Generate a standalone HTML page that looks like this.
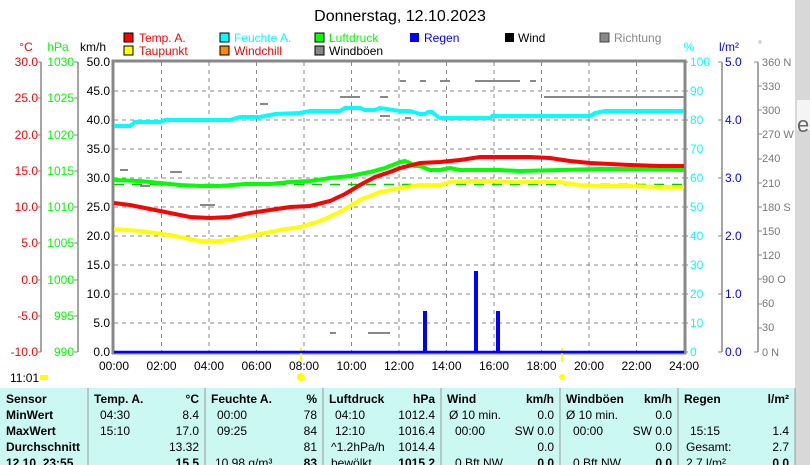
<!DOCTYPE html>
<html><head><meta charset="utf-8"><style>
body{margin:0;width:810px;height:465px;overflow:hidden;background:#fff;font-family:"Liberation Sans",sans-serif;}
svg{position:absolute;left:0;top:0}
</style></head><body>
<svg width="810" height="465" viewBox="0 0 810 465" font-family="Liberation Sans, sans-serif" font-size="12">
<rect x="795" y="0" width="15" height="465" fill="#d8d8d8"/>
<rect x="797" y="100" width="13" height="30" fill="#f4f4f4"/>
<text x="797" y="132" font-size="22" fill="#666">e</text>
<text x="400" y="21" text-anchor="middle" font-size="16" fill="#000">Donnerstag, 12.10.2023</text>
<!-- legend -->
<g font-size="12">
<rect x="124" y="33" width="9" height="9" fill="#f00" stroke="#000"/><text x="139" y="42" fill="#f00">Temp. A.</text>
<rect x="124" y="46" width="9" height="9" fill="#ff0" stroke="#000"/><text x="139" y="55" fill="#f00">Taupunkt</text>
<rect x="220" y="33" width="9" height="9" fill="#0ff" stroke="#000"/><text x="234" y="42" fill="#0ff">Feuchte A.</text>
<rect x="220" y="46" width="9" height="9" fill="#f80" stroke="#000"/><text x="234" y="55" fill="#f00">Windchill</text>
<rect x="315" y="33" width="9" height="9" fill="#0f0" stroke="#000"/><text x="329" y="42" fill="#0f0">Luftdruck</text>
<rect x="315" y="46" width="9" height="9" fill="#888" stroke="#000"/><text x="329" y="55" fill="#000">Windböen</text>
<rect x="410" y="33" width="9" height="9" fill="#00f"/><text x="424" y="42" fill="#00f">Regen</text>
<rect x="505" y="33" width="9" height="9" fill="#000"/><text x="518" y="42" fill="#000">Wind</text>
<rect x="600" y="33" width="9" height="9" fill="#888" stroke="#444"/><text x="614" y="42" fill="#888">Richtung</text>
</g>
<text x="26" y="51" fill="#f00" text-anchor="middle">°C</text>
<text x="58" y="51" fill="#0f0" text-anchor="middle">hPa</text>
<text x="93" y="51" fill="#000" text-anchor="middle">km/h</text>
<text x="689" y="51" fill="#0ff" text-anchor="middle">%</text>
<text x="729" y="51" fill="#00f" text-anchor="middle">l/m²</text>
<text x="760" y="48" fill="#888" text-anchor="middle" font-size="10">°</text>
<!-- grid -->
<g stroke="#888" stroke-dasharray="4,4" stroke-width="1">
<path d="M161.5 62V352M209 62V352M256.5 62V352M304 62V352M351.5 62V352M399 62V352M446.5 62V352M494 62V352M541.5 62V352M589 62V352M636.5 62V352"/>
<path d="M114 91H684M114 120H684M114 149H684M114 178H684M114 207H684M114 236H684M114 265H684M114 294H684M114 323H684"/>
</g>
<!-- axes -->
<g stroke="#888" stroke-width="1.5" fill="none">
<path d="M41 62V352M78 62V352M722 62V352M758 62V352"/>
</g>
<rect x="113" y="61" width="572" height="292" fill="none" stroke="#888" stroke-width="3"/>
<g font-size="12" text-anchor="end">
<g fill="#f00"><text x="38" y="66">30.0</text><text x="38" y="102">25.0</text><text x="38" y="139">20.0</text><text x="38" y="175">15.0</text><text x="38" y="211">10.0</text><text x="38" y="247">5.0</text><text x="38" y="284">0.0</text><text x="38" y="320">-5.0</text><text x="38" y="356">-10.0</text></g>
<g fill="#0f0"><text x="74" y="66">1030</text><text x="74" y="102">1025</text><text x="74" y="139">1020</text><text x="74" y="175">1015</text><text x="74" y="211">1010</text><text x="74" y="247">1005</text><text x="74" y="284">1000</text><text x="74" y="320">995</text><text x="74" y="356">990</text></g>
<g fill="#000"><text x="110" y="66">50.0</text><text x="110" y="95">45.0</text><text x="110" y="124">40.0</text><text x="110" y="153">35.0</text><text x="110" y="182">30.0</text><text x="110" y="211">25.0</text><text x="110" y="240">20.0</text><text x="110" y="269">15.0</text><text x="110" y="298">10.0</text><text x="110" y="327">5.0</text><text x="110" y="356">0.0</text></g>
</g>
<g stroke="#888"><path d="M41 62h-4M41 98h-4M41 135h-4M41 171h-4M41 207h-4M41 243h-4M41 280h-4M41 316h-4M41 352h-4M78 62h-4M78 98h-4M78 135h-4M78 171h-4M78 207h-4M78 243h-4M78 280h-4M78 316h-4M78 352h-4"/></g>
<g font-size="12" fill="#0ff"><text x="690" y="66">100</text><text x="690" y="95">90</text><text x="690" y="124">80</text><text x="690" y="153">70</text><text x="690" y="182">60</text><text x="690" y="211">50</text><text x="690" y="240">40</text><text x="690" y="269">30</text><text x="690" y="298">20</text><text x="690" y="327">10</text><text x="690" y="356">0</text></g>
<g font-size="12" fill="#00f"><text x="725" y="66">5.0</text><text x="725" y="124">4.0</text><text x="725" y="182">3.0</text><text x="725" y="240">2.0</text><text x="725" y="298">1.0</text><text x="725" y="356">0.0</text></g>
<g font-size="11" fill="#777"><text x="762" y="66">360 N</text><text x="762" y="90">330</text><text x="762" y="114">300</text><text x="762" y="138">270 W</text><text x="762" y="162">240</text><text x="762" y="187">210</text><text x="762" y="211">180 S</text><text x="762" y="235">150</text><text x="762" y="259">120</text><text x="762" y="283">90 O</text><text x="762" y="307">60</text><text x="762" y="331">30</text><text x="762" y="356">0 N</text></g>
<g stroke="#888"><path d="M684 62h4M684 91h4M684 120h4M684 149h4M684 178h4M684 207h4M684 236h4M684 265h4M684 294h4M684 323h4M684 352h4M722 62h-4M722 120h-4M722 178h-4M722 236h-4M722 294h-4M722 352h-4M758 62h-4M758 86h4M758 110h4M758 134h4M758 159h4M758 183h4M758 207h4M758 231h4M758 255h4M758 279h4M758 304h4M758 328h4M758 352h-4"/></g>
<g font-size="12" fill="#000" text-anchor="middle"><text x="114" y="370">00:00</text><text x="161.5" y="370">02:00</text><text x="209" y="370">04:00</text><text x="256.5" y="370">06:00</text><text x="304" y="370">08:00</text><text x="351.5" y="370">10:00</text><text x="399" y="370">12:00</text><text x="446.5" y="370">14:00</text><text x="494" y="370">16:00</text><text x="541.5" y="370">18:00</text><text x="589" y="370">20:00</text><text x="636.5" y="370">22:00</text><text x="684" y="370">24:00</text></g>
<text x="10" y="382" font-size="12">11:01</text>
<rect x="40" y="375" width="8" height="5" fill="#ff0"/>
<rect x="300" y="348" width="2" height="14" fill="#ff0"/><circle cx="301" cy="377" r="4" fill="#ff0"/>
<rect x="561" y="348" width="2" height="14" fill="#ff0"/><circle cx="562" cy="377" r="3" fill="#ff0"/>
<!-- direction gray marks -->
<g stroke="#888" stroke-width="2">
<path d="M544 97H684M400 81h6M420 81h6M440 81h10M475 81h45M530 81h6M340 97h20M380 97h8M260 104h8M120 170h8M170 172h12M140 186h10M200 205h15M380 116h10M405 118h6M330 333h6M368 333h22"/>
</g>
<!-- green dashed avg -->
<path d="M114 184.5H684" stroke="#0c0" stroke-width="1.5" stroke-dasharray="10,8"/>
<!-- curves -->
<polyline fill="none" stroke="#0ff" stroke-width="4" points="114,126 130,126 135,122 160,122 165,120 230,120 240,117 260,117 275,114 300,113 310,111 340,111 345,108 360,108 365,110 375,110 380,108 400,111 410,111 420,114 425,114 428,112 432,112 437,116 440,118 490,118 492,116 590,116 595,113 605,111 684,111"/>
<polyline fill="none" stroke="#0f0" stroke-width="4" points="114,180 140,181 160,183 180,185 200,186 220,186 245,184 270,184 290,182 310,181 330,178 350,176 370,172 385,168 400,162 405,161 410,163 415,166 420,166 430,170 440,170 450,168 460,170 480,170 500,170 520,171 560,170 600,169 640,169 684,170"/>
<polyline fill="none" stroke="#f00" stroke-width="4" points="114,203 130,205 150,209 170,213 190,217 210,218 230,217 250,213 270,210 290,207 310,206 330,201 345,194 360,185 375,177 390,172 400,168 420,163 440,162 460,160 480,157 500,157 530,157 550,158 570,161 590,163 610,164 630,165 660,166 684,166"/>
<polyline fill="none" stroke="#ff0" stroke-width="4" points="114,229 140,231 170,235 200,241 220,241 240,238 260,234 280,230 300,227 320,221 340,212 360,200 380,192 400,188 420,185 440,185 450,182 470,181 490,181 510,182 540,182 560,182 580,185 600,186 630,186 660,187 684,187"/>
<!-- rain -->
<path d="M114 352H684" stroke="#00f" stroke-width="2.5"/>
<rect x="423" y="311" width="4" height="41" fill="#00f"/>
<rect x="474" y="271" width="4" height="81" fill="#00f"/>
<rect x="496" y="311" width="4" height="41" fill="#00f"/>
<!-- table -->
<rect x="0" y="388" width="795" height="77" fill="#ccf8f4"/>
<g stroke="#999"><path d="M88 388V465M205 388V465M323 388V465M441 388V465M560 388V465M678 388V465M795 388V465"/></g>
<g font-size="12" fill="#000">
<g font-weight="bold"><text x="6" y="403">Sensor</text><text x="6" y="419">MinWert</text><text x="6" y="435">MaxWert</text><text x="6" y="451">Durchschnitt</text><text x="6" y="467">12.10. 23:55</text>
<text x="94" y="403">Temp. A.</text><text x="199" y="403" text-anchor="end">°C</text>
<text x="211" y="403">Feuchte A.</text><text x="317" y="403" text-anchor="end">%</text>
<text x="329" y="403">Luftdruck</text><text x="435" y="403" text-anchor="end">hPa</text>
<text x="447" y="403">Wind</text><text x="554" y="403" text-anchor="end">km/h</text>
<text x="566" y="403">Windböen</text><text x="672" y="403" text-anchor="end">km/h</text>
<text x="684" y="403">Regen</text><text x="789" y="403" text-anchor="end">l/m²</text>
<text x="199" y="467" text-anchor="end">15.5</text><text x="317" y="467" text-anchor="end">83</text><text x="435" y="467" text-anchor="end">1015.2</text><text x="554" y="467" text-anchor="end">0.0</text><text x="672" y="467" text-anchor="end">0.0</text><text x="789" y="467" text-anchor="end">0.0</text></g>
<text x="100" y="419">04:30</text><text x="199" y="419" text-anchor="end">8.4</text>
<text x="100" y="435">15:10</text><text x="199" y="435" text-anchor="end">17.0</text>
<text x="199" y="451" text-anchor="end">13.32</text>
<text x="217" y="419">00:00</text><text x="317" y="419" text-anchor="end">78</text>
<text x="217" y="435">09:25</text><text x="317" y="435" text-anchor="end">84</text>
<text x="317" y="451" text-anchor="end">81</text><text x="215" y="467">10.98 g/m³</text>
<text x="335" y="419">04:10</text><text x="435" y="419" text-anchor="end">1012.4</text>
<text x="335" y="435">12:10</text><text x="435" y="435" text-anchor="end">1016.4</text>
<text x="331" y="451">^1.2hPa/h</text><text x="435" y="451" text-anchor="end">1014.4</text><text x="331" y="467">bewölkt</text>
<text x="449" y="419">Ø 10 min.</text><text x="554" y="419" text-anchor="end">0.0</text>
<text x="455" y="435">00:00</text><text x="554" y="435" text-anchor="end">SW 0.0</text>
<text x="554" y="451" text-anchor="end">0.0</text><text x="455" y="467">0 Bft NW</text>
<text x="566" y="419">Ø 10 min.</text><text x="672" y="419" text-anchor="end">0.0</text>
<text x="573" y="435">00:00</text><text x="672" y="435" text-anchor="end">SW 0.0</text>
<text x="672" y="451" text-anchor="end">0.0</text><text x="573" y="467">0 Bft NW</text>
<text x="690" y="435">15:15</text><text x="789" y="435" text-anchor="end">1.4</text>
<text x="686" y="451">Gesamt:</text><text x="789" y="451" text-anchor="end">2.7</text><text x="686" y="467">2.7 l/m²</text>
</g>
</svg>
</body></html>
